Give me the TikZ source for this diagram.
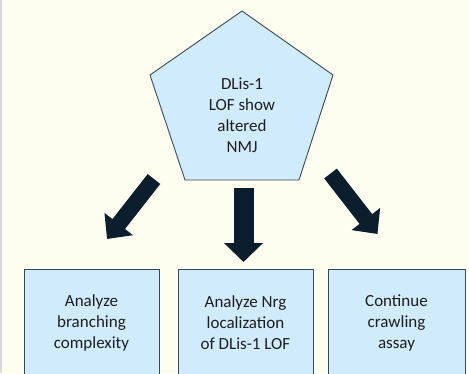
\documentclass[tikz,border=0pt]{standalone}
\usepackage{fontspec}
\setmainfont{Carlito}
\usetikzlibrary{arrows.meta}
\definecolor{bgc}{HTML}{FEFEF0}
\definecolor{fillc}{HTML}{D0EBFB}
\definecolor{edgec}{HTML}{3A4854}
\definecolor{arrc}{HTML}{0A1E2E}
\definecolor{txtc}{HTML}{1E1E1E}
\tikzset{
  box/.style={draw=edgec, line width=0.9pt, fill=fillc, minimum width=135pt, minimum height=108pt,
    align=center, text=txtc, font=\fontsize{17}{21}\selectfont, inner sep=0pt},
  sidearrow/.style={draw=arrc, line width=16pt, -{Triangle[width=35pt,length=19pt]}},
  midarrow/.style={draw=arrc, line width=20pt, -{Triangle[width=38pt,length=19pt]}},
  ptext/.style={align=center, text=txtc, font=\fontsize{17}{21}\selectfont, inner sep=0pt}
}
\begin{document}
\begin{tikzpicture}[x=1pt,y=-1pt]
\useasboundingbox (0,0) rectangle (469,373);
\fill[bgc] (0,0) rectangle (469,373);
\draw[color=gray!30, line width=2pt] (1,0) -- (1,373);
% pentagon
\draw[draw=edgec, line width=0.9pt, fill=fillc] (242,11) -- (333,75) -- (299,180) -- (185,180) -- (150,75) -- cycle;
\node[ptext] (top) at (242,115) {DLis-1\\LOF show\\altered\\NMJ};
% boxes
\node[box] (b1) at (91.5,323) {Analyze\\branching\\complexity};
\node[box] (b2) at (245.5,323) {Analyze Nrg\\localization\\of DLis-1 LOF};
\node[box, minimum width=137pt] (b3) at (396.5,323) {Continue\\crawling\\assay};
% arrows
\coordinate (l1) at (154,179);
\coordinate (l2) at (107,239);
\coordinate (m1) at (243.5,188);
\coordinate (m2) at (243.5,262);
\coordinate (r1) at (330.5,173.5);
\coordinate (r2) at (377.5,234);
\draw[sidearrow] (l1) -- (l2);
\draw[midarrow] (m1) -- (m2);
\draw[sidearrow] (r1) -- (r2);
\end{tikzpicture}
\end{document}
